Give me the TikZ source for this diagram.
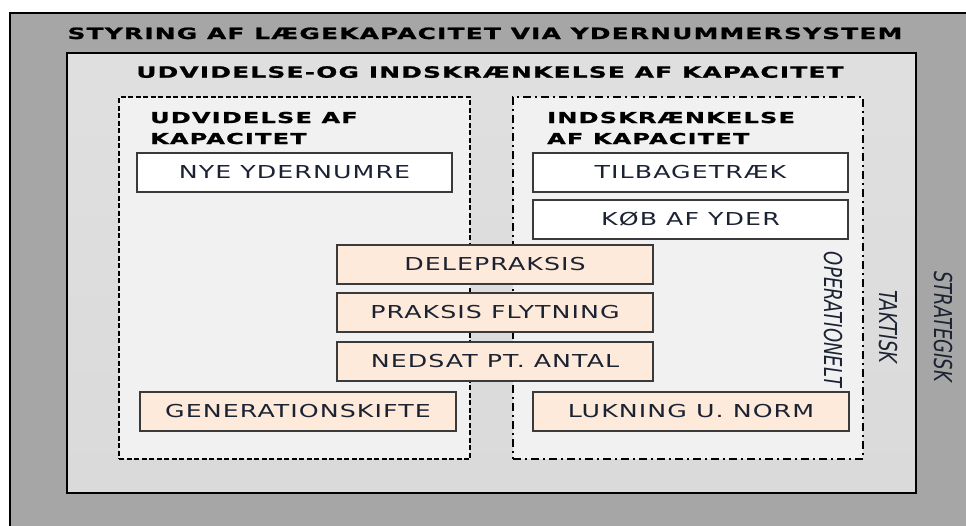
\documentclass[tikz,border=0pt]{standalone}
\usepackage{fontspec}
\setmainfont{DejaVu Sans}
\newfontfamily\boxfont[FakeStretch=1.42,LetterSpace=6]{DejaVu Sans}
\newfontfamily\headfont[FakeStretch=1.6,LetterSpace=8,FakeBold=1.2]{DejaVu Sans}
\newfontfamily\sidefont{DejaVu Sans}

\definecolor{outergray}{HTML}{A6A6A6}
\definecolor{innergray}{HTML}{DADADA}
\definecolor{panelgray}{HTML}{F1F1F1}
\definecolor{peach}{HTML}{FDEADA}
\definecolor{boxline}{HTML}{3A3A3A}
\definecolor{ink}{HTML}{1B2232}

\tikzset{
  panel/.style={draw=black, fill=panelgray, line width=2pt, minimum width=351pt,
    minimum height=362pt, inner sep=0pt},
  widepanel/.style={panel, dash pattern=on 5pt off 2.5pt},
  dotpanel/.style={panel, dash pattern=on 8pt off 4pt on 2pt off 4pt},
  item/.style={draw=boxline, line width=1.2pt, minimum width=316pt, minimum height=39pt,
    inner sep=0pt, text=ink, font=\boxfont\fontsize{17.8}{20}\selectfont},
  plainitem/.style={item, fill=white},
  peachitem/.style={item, fill=peach},
  heading/.style={inner sep=0pt, anchor=base, text=black,
    font=\headfont\bfseries\fontsize{15.5}{18}\selectfont},
  subheading/.style={heading, anchor=base west, font=\headfont\bfseries\fontsize{15}{18}\selectfont},
  level/.style={inner sep=0pt, rotate=-90, text=ink, font=\sidefont\itshape\fontsize{18}{20}\selectfont}
}

\begin{document}
\begin{tikzpicture}[x=1pt,y=-1pt]
  \clip (0,0) rectangle (966,525);
  \fill[white] (0,0) rectangle (966,525);

  % strategic frame and tactical frame
  \filldraw[fill=outergray, draw=black, line width=2pt] (10,13) rectangle (1000,560);
  \shade[top color=innergray!85!white, bottom color=innergray] (67,53) rectangle (916,493);
  \draw[black, line width=2pt] (67,53) rectangle (916,493);

  \node[heading] (title) at (485,39) {STYRING AF LÆGEKAPACITET VIA YDERNUMMERSYSTEM};
  \node[heading] (subtitle) at (490,77.7) {UDVIDELSE-OG INDSKRÆNKELSE AF KAPACITET};

  % operational panels
  \node[widepanel] (expand) at (294.5,278) {};
  \node[dotpanel, minimum width=350pt] (shrink) at (688,278) {};

  \node[subheading] (expandA) at (150,123) {UDVIDELSE AF};
  \node[subheading] (expandB) at (150,144) {KAPACITET};
  \node[subheading] (shrinkA) at (547,123) {INDSKRÆNKELSE};
  \node[subheading] (shrinkB) at (547,144) {AF KAPACITET};

  % measures
  \node[plainitem, minimum width=315pt] (nye) at (294.5,172.5) {NYE YDERNUMRE};
  \node[plainitem, minimum width=315pt] (tilbage) at (690.5,172.5) {TILBAGETRÆK};
  \node[plainitem, minimum width=315pt] (koeb) at (690.5,219.5) {KØB AF YDER};

  \node[peachitem] (dele) at (495,264.5) {DELEPRAKSIS};
  \node[peachitem] (flyt) at (495,312.5) {PRAKSIS FLYTNING};
  \node[peachitem] (nedsat) at (495,361.5) {NEDSAT PT. ANTAL};
  \node[peachitem] (gen) at (298,411.5) {GENERATIONSKIFTE};
  \node[peachitem] (luk) at (691,411.5) {LUKNING U. NORM};

  % level labels
  \node[level] (oper) at (833,319.5) {\scalebox{1}[1.37]{OPERATIONELT}};
  \node[level] (takt) at (888,327) {\scalebox{1}[1.37]{TAKTISK}};
  \node[level] (strat) at (943,326.5) {\scalebox{1}[1.37]{STRATEGISK}};
\end{tikzpicture}
\end{document}
